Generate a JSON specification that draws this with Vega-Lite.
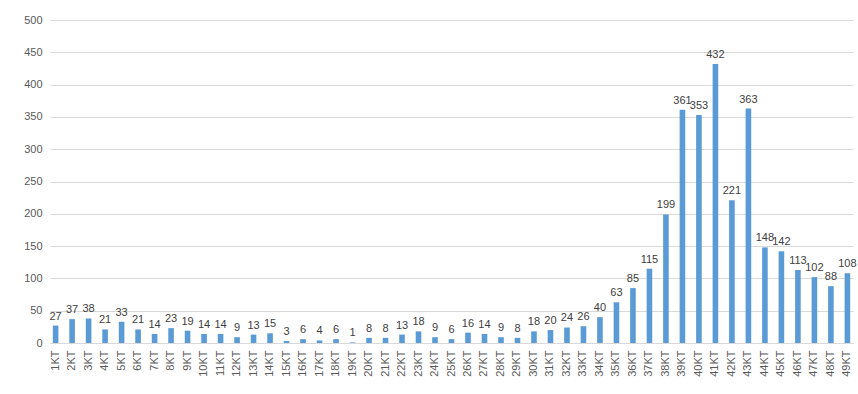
{
  "$schema": "https://vega.github.io/schema/vega-lite/v6.json",
  "width": 803,
  "height": 323,
  "autosize": {"type": "none"},
  "padding": {"left": 50, "top": 20, "right": 5, "bottom": 51},
  "background": "white",
  "config": {"view": {"stroke": null}, "font": "Liberation Sans"},
  "data": {"values": [
    {"k": "1KT", "v": 27}, {"k": "2KT", "v": 37}, {"k": "3KT", "v": 38}, {"k": "4KT", "v": 21},
    {"k": "5KT", "v": 33}, {"k": "6KT", "v": 21}, {"k": "7KT", "v": 14}, {"k": "8KT", "v": 23},
    {"k": "9KT", "v": 19}, {"k": "10KT", "v": 14}, {"k": "11KT", "v": 14}, {"k": "12KT", "v": 9},
    {"k": "13KT", "v": 13}, {"k": "14KT", "v": 15}, {"k": "15KT", "v": 3}, {"k": "16KT", "v": 6},
    {"k": "17KT", "v": 4}, {"k": "18KT", "v": 6}, {"k": "19KT", "v": 1}, {"k": "20KT", "v": 8},
    {"k": "21KT", "v": 8}, {"k": "22KT", "v": 13}, {"k": "23KT", "v": 18}, {"k": "24KT", "v": 9},
    {"k": "25KT", "v": 6}, {"k": "26KT", "v": 16}, {"k": "27KT", "v": 14}, {"k": "28KT", "v": 9},
    {"k": "29KT", "v": 8}, {"k": "30KT", "v": 18}, {"k": "31KT", "v": 20}, {"k": "32KT", "v": 24},
    {"k": "33KT", "v": 26}, {"k": "34KT", "v": 40}, {"k": "35KT", "v": 63}, {"k": "36KT", "v": 85},
    {"k": "37KT", "v": 115}, {"k": "38KT", "v": 199}, {"k": "39KT", "v": 361}, {"k": "40KT", "v": 353},
    {"k": "41KT", "v": 432}, {"k": "42KT", "v": 221}, {"k": "43KT", "v": 363}, {"k": "44KT", "v": 148},
    {"k": "45KT", "v": 142}, {"k": "46KT", "v": 113}, {"k": "47KT", "v": 102}, {"k": "48KT", "v": 88},
    {"k": "49KT", "v": 108}
  ]},
  "encoding": {
    "x": {"field": "k", "type": "nominal", "sort": null,
      "scale": {"paddingInner": 0.66, "paddingOuter": 0.17},
      "axis": {"title": null, "labelAngle": -90, "labelFontSize": 11, "labelColor": "#595959",
        "ticks": false, "domainColor": "#d9d9d9", "labelPadding": 7, "labelBaseline": "middle", "labelAlign": "right"}},
    "y": {"field": "v", "type": "quantitative",
      "scale": {"domain": [0, 500], "nice": false},
      "axis": {"title": null, "values": [0, 50, 100, 150, 200, 250, 300, 350, 400, 450, 500],
        "labelFontSize": 11, "labelColor": "#595959", "ticks": false, "domain": false,
        "gridColor": "#d9d9d9", "labelPadding": 8}}
  },
  "layer": [
    {"mark": {"type": "bar", "color": "#5B9BD5"}},
    {"mark": {"type": "text", "dy": -9, "fontSize": 11, "color": "#404040"},
      "encoding": {"text": {"field": "v", "type": "quantitative"}}}
  ]
}
